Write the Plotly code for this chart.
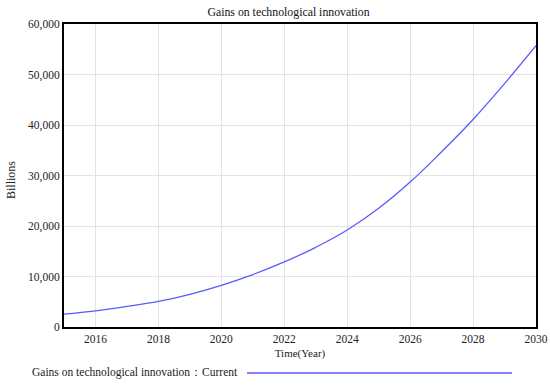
import plotly.graph_objects as go

years = [2015, 2016, 2017, 2018, 2019, 2020, 2021, 2022, 2023, 2024, 2025, 2026, 2027, 2028, 2029, 2030]
gains = [2550, 3200, 4070, 5060, 6480, 8260, 10380, 12880, 15780, 19200, 23500, 28700, 34700, 41100, 48200, 55700]
x_ticks = [2016, 2018, 2020, 2022, 2024, 2026, 2028, 2030]
y_ticks = [0, 10000, 20000, 30000, 40000, 50000, 60000]

LINE_COLOR = "#5a5aff"
FONT = "Liberation Serif"

fig = go.Figure()
fig.add_trace(go.Scatter(x=years, y=gains, mode="lines",
                         line=dict(color=LINE_COLOR, width=1.3, shape="spline", smoothing=1.2),
                         showlegend=False))

fig.update_layout(
    width=550, height=386,
    margin=dict(l=64, r=14, t=24, b=59),
    paper_bgcolor="white", plot_bgcolor="white",
    font=dict(family=FONT, size=11, color="#222"),
    title=dict(text="Gains on technological innovation", x=288.5 / 550, xanchor="center",
               y=0.968, yanchor="middle", font=dict(family=FONT, size=11.8, color="#111")),
    xaxis=dict(range=[2015, 2030], tickvals=x_ticks, showgrid=True, gridcolor="#e3e3e3",
               gridwidth=1, showline=True, linecolor="black", linewidth=2, mirror=True,
               ticks="", zeroline=False, automargin=False,
               title=dict(text="Time(Year)", font=dict(family=FONT, size=11), standoff=6),
               tickfont=dict(family=FONT, size=11.5)),
    yaxis=dict(range=[0, 60000], tickvals=y_ticks, tickformat=",d", showgrid=True,
               gridcolor="#e3e3e3", gridwidth=1, showline=True, linecolor="black",
               linewidth=2, mirror=True, ticks="", zeroline=False, automargin=False,
               tickfont=dict(family=FONT, size=11.5)),
)

fig.add_annotation(text="Billions", xref="paper", yref="paper",
                   x=(11 - 64) / 472, y=(327 - 180) / 303, xanchor="center", yanchor="middle",
                   textangle=-90, showarrow=False, font=dict(family=FONT, size=12, color="#222"))
fig.add_annotation(text="Gains on technological innovation：Current", xref="paper", yref="paper",
                   x=(30 - 64) / 472, y=-(372 - 327) / 303, xanchor="left", yanchor="middle",
                   showarrow=False, font=dict(family=FONT, size=11.5, color="#222"))
fig.add_shape(type="line", xref="paper", yref="paper",
              x0=(247 - 64) / 472, x1=(512 - 64) / 472,
              y0=-(373 - 327) / 303, y1=-(373 - 327) / 303,
              line=dict(color=LINE_COLOR, width=1.3))

fig.write_html("out.html", config={"displayModeBar": False},
               post_script="document.body.style.margin='0';document.body.style.overflow='hidden';")
